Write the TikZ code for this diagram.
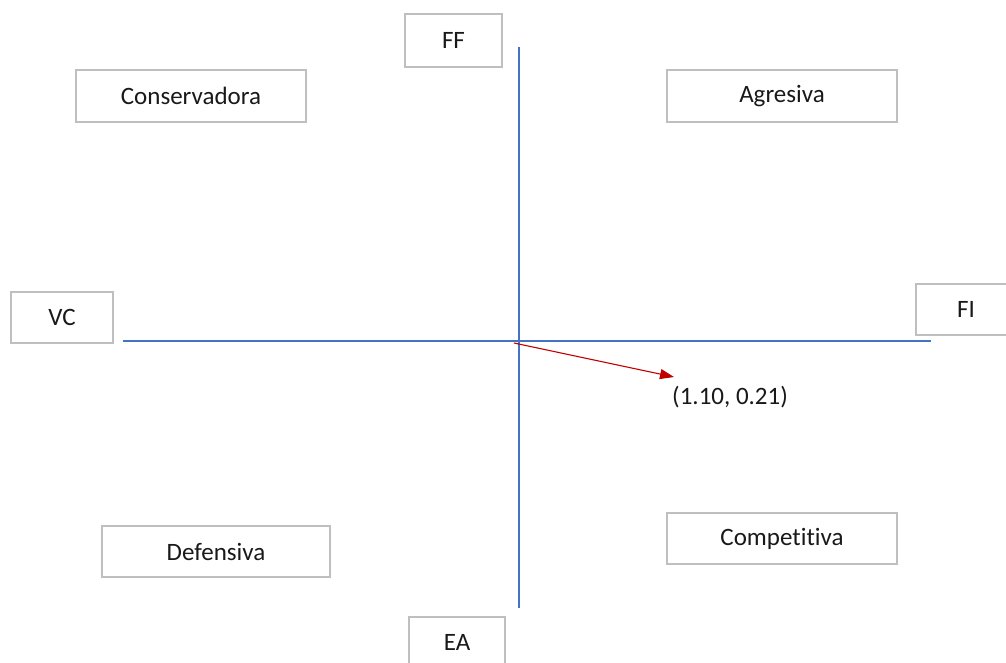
\documentclass[tikz,border=0pt]{standalone}
\usepackage{fontspec}
\setmainfont{Carlito}[Ligatures=NoCommon]
\usetikzlibrary{arrows.meta}
\definecolor{boxgray}{HTML}{BFBFBF}
\definecolor{axisblue}{HTML}{4472C4}
\definecolor{vecred}{HTML}{C00000}
\begin{document}
\begin{tikzpicture}[x=1pt,y=-1pt,
  lbl/.style={draw=boxgray, line width=1.5pt, fill=white, inner sep=0pt,
    font=\fontsize{25}{29}\selectfont, text=black!90},
  axis/.style={draw=axisblue, line width=1.5pt},
  vec/.style={draw=vecred, line width=1.1pt, -{Triangle[length=14pt,width=10pt]}}]
  \useasboundingbox (0,0) rectangle (1006,662);
  \clip (0,0) rectangle (1006,662);
  % quadrant labels
  \node[lbl, minimum width=230pt, minimum height=52pt] (cons) at (191,96) {Conservadora};
  \node[lbl, minimum width=230pt, minimum height=52pt] (agr) at (782,96) {Agresiva};
  \node[lbl, minimum width=228pt, minimum height=51pt] (def) at (216,551.5) {Defensiva};
  \node[lbl, minimum width=230pt, minimum height=51pt] (comp) at (782,538.5) {Competitiva};
  % axis end labels
  \node[lbl, minimum width=97pt, minimum height=53pt] (ff) at (453.5,40.5) {FF};
  \node[lbl, minimum width=102pt, minimum height=51pt] (vc) at (62,317.5) {VC};
  \node[lbl, minimum width=100pt, minimum height=51pt] (fi) at (966,309.5) {FI};
  \node[lbl, minimum width=96pt, minimum height=51pt] (ea) at (457,642.5) {EA};
  % axes
  \coordinate (top) at (519,47);
  \coordinate (bottom) at (519,608);
  \coordinate (left) at (123,341);
  \coordinate (right) at (931,341);
  \draw[axis] (top) -- (bottom);
  \draw[axis] (left) -- (right);
  % result vector
  \coordinate (origin) at (514,343);
  \node[anchor=west, inner sep=0pt, font=\fontsize{25}{29}\selectfont, text=black!90] (pt) at (672,397) {(1.10, 0.21)};
  \coordinate (tip) at (674,377);
  \draw[vec] (origin) -- (tip);
\end{tikzpicture}
\end{document}
